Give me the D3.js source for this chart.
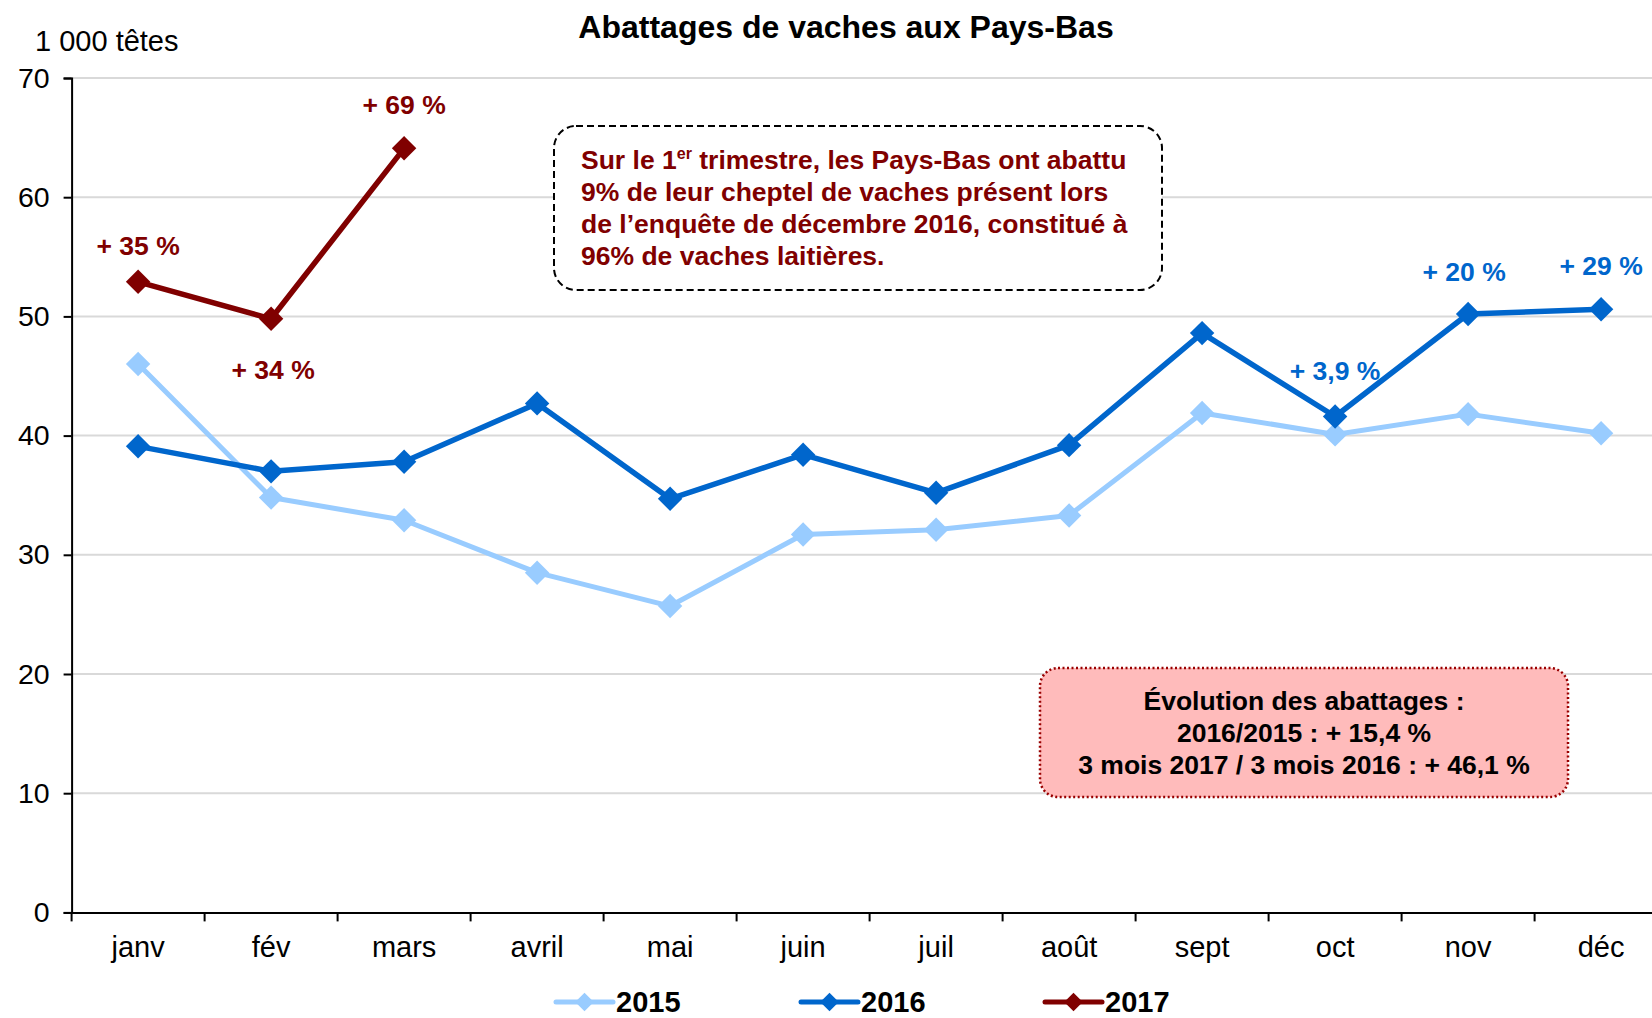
<!DOCTYPE html>
<html><head><meta charset="utf-8">
<script src="https://cdn.jsdelivr.net/npm/d3@7"></script>
<style>body{margin:0;background:#fff}svg{display:block;font-family:"Liberation Sans",Arial,sans-serif}</style>
</head><body>
<svg id="c" width="1652" height="1018"></svg>
<script>
const months = ["janv","fév","mars","avril","mai","juin","juil","août","sept","oct","nov","déc"];
const v2015 = [46.0,34.8,32.9,28.5,25.7,31.7,32.1,33.3,41.9,40.1,41.8,40.2];
const v2016 = [39.1,37.0,37.8,42.7,34.7,38.4,35.2,39.2,48.6,41.6,50.2,50.6];
const v2017 = [52.9,49.8,64.1];
const yTicks = [0,10,20,30,40,50,60,70];
const labels2017 = [{m:"janv",t:"+ 35 %"},{m:"fév",t:"+ 34 %"},{m:"mars",t:"+ 69 %"}];
const labels2016 = [{m:"oct",t:"+ 3,9 %"},{m:"nov",t:"+ 20 %"},{m:"déc",t:"+ 29 %"}];
const seriesNames = ["2015","2016","2017"];
const colors = ["#99CCFF","#0066CC","#800000"];

const svg = d3.select("#c");
const x0 = 71.6, band = 133;
const x = d3.scaleBand().domain(months).range([x0, x0 + band*12]);
const y = d3.scaleLinear().domain([0,70]).range([912.4, 78]);
const cx = m => x(m) + x.bandwidth()/2;

// grid
svg.append("g").selectAll("line").data(yTicks.filter(d=>d>0)).join("line")
  .attr("x1", x0).attr("x2", 1652).attr("y1", d=>y(d)).attr("y2", d=>y(d))
  .attr("stroke","#D9D9D9").attr("stroke-width",2);

// y axis
const ya = svg.append("g").attr("transform",`translate(${x0},0)`)
  .call(d3.axisLeft(y).tickValues(yTicks).tickSize(8).tickPadding(14));
ya.select(".domain").attr("stroke","#000").attr("stroke-width",2);
ya.selectAll(".tick line").attr("stroke","#000").attr("stroke-width",2);
ya.selectAll("text").attr("font-size",28.5).attr("fill","#000").attr("font-family","Liberation Sans, Arial, sans-serif");

// x axis
const xa = svg.append("g").attr("transform",`translate(0,${y(0)})`)
  .call(d3.axisBottom(x).tickSize(0).tickPadding(24));
xa.select(".domain").attr("stroke","#000").attr("stroke-width",2);
xa.selectAll("text").attr("font-size",29).attr("fill","#000").attr("font-family","Liberation Sans, Arial, sans-serif");
xa.selectAll("line.bt").data(d3.range(13)).join("line").attr("class","bt")
  .attr("x1",i=>x0+i*band).attr("x2",i=>x0+i*band).attr("y1",0).attr("y2",9)
  .attr("stroke","#000").attr("stroke-width",2);

const diamond = d3.symbol().type(d3.symbolDiamond2);
function series(vals, color, w, sz){
  const pts = vals.map((v,i)=>[cx(months[i]), y(v)]);
  svg.append("path").attr("d", d3.line()(pts)).attr("fill","none")
    .attr("stroke",color).attr("stroke-width",w).attr("stroke-linejoin","round");
  svg.append("g").selectAll("path").data(pts).join("path")
    .attr("transform",d=>`translate(${d[0]},${d[1]})`)
    .attr("d", diamond.size(sz)()).attr("fill",color);
}
series(v2015, colors[0], 5, 380);
series(v2016, colors[1], 5.5, 380);
series(v2017, colors[2], 5.5, 380);

// value labels
const lab = (m,dx,yy,t,c) => svg.append("text").attr("x",cx(m)+dx).attr("y",yy)
  .attr("text-anchor","middle").attr("font-weight","bold").attr("font-size",26.5).attr("fill",c).text(t);
const l17pos = [[0,255],[2,379],[0,114]];
labels2017.forEach((d,i)=>lab(d.m,l17pos[i][0],l17pos[i][1],d.t,colors[2]));
const l16pos = [[0,380],[-4,281],[0,275]];
labels2016.forEach((d,i)=>lab(d.m,l16pos[i][0],l16pos[i][1],d.t,colors[1]));

// title
svg.append("text").attr("x",846).attr("y",38).attr("text-anchor","middle")
  .attr("font-weight","bold").attr("font-size",32).text("Abattages de vaches aux Pays-Bas");
svg.append("text").attr("x",35).attr("y",51).attr("font-size",29).text("1 000 têtes");

// note box
svg.append("rect").attr("x",554).attr("y",126).attr("width",608).attr("height",164).attr("rx",22)
  .attr("fill","#fff").attr("stroke","#000").attr("stroke-width",2).attr("stroke-dasharray","7,4");
const note = svg.append("text").attr("font-weight","bold").attr("font-size",26.5).attr("fill","#800000");
note.append("tspan").attr("x",581).attr("y",169).text("Sur le 1");
note.append("tspan").attr("font-size",16).attr("dy",-10).text("er");
note.append("tspan").attr("dy",10).text(" trimestre, les Pays-Bas ont abattu");
["9% de leur cheptel de vaches présent lors","de l’enquête de décembre 2016, constitué à","96% de vaches laitières."]
  .forEach((s,i)=>note.append("tspan").attr("x",581).attr("y",201+i*32).text(s));

// evolution box
svg.append("rect").attr("x",1040).attr("y",668).attr("width",528).attr("height",129).attr("rx",18)
  .attr("fill","#FFBBBB").attr("stroke","#990000").attr("stroke-width",2.5).attr("stroke-dasharray","2,2.5");
["Évolution des abattages :","2016/2015 : + 15,4 %","3 mois 2017 / 3 mois 2016 : + 46,1 %"]
  .forEach((s,i)=>svg.append("text").attr("x",1304).attr("y",710+i*32).attr("text-anchor","middle")
    .attr("font-weight","bold").attr("font-size",26.5).attr("fill","#000").text(s));

// legend
const legX = [556, 801, 1045];
seriesNames.forEach((n,i)=>{
  const g = svg.append("g").attr("transform",`translate(${legX[i]},1002)`);
  g.append("line").attr("x1",0).attr("x2",57).attr("stroke",colors[i]).attr("stroke-width",5).attr("stroke-linecap","round");
  g.append("path").attr("transform","translate(28.5,0)").attr("d",diamond.size(220)()).attr("fill",colors[i]);
  g.append("text").attr("x",60).attr("y",9.5).attr("font-weight","bold").attr("font-size",29).text(n);
});
</script>
</body></html>
